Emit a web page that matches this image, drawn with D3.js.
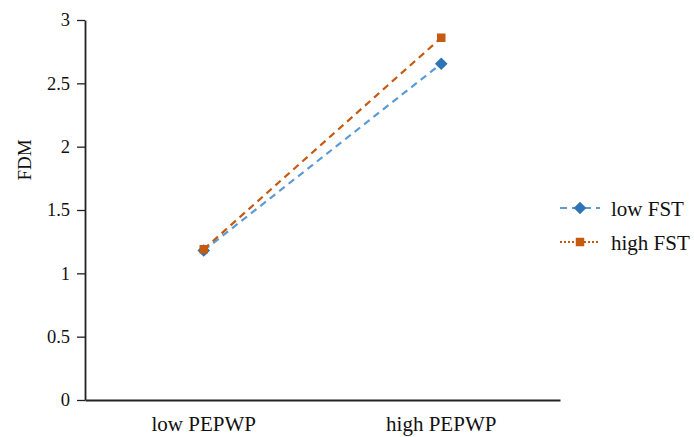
<!DOCTYPE html>
<html><head><meta charset="utf-8">
<script src="https://cdn.jsdelivr.net/npm/d3@7"></script>
<style>body{margin:0;background:#fff}svg{display:block}</style>
</head><body><svg id="c" width="694" height="437"></svg>
<script>
const categories = ["low PEPWP", "high PEPWP"];
const seriesNames = ["low FST", "high FST"];
const lowFST = [1.18, 2.655];
const highFST = [1.19, 2.86];
const yTicks = [0, 0.5, 1, 1.5, 2, 2.5, 3];
const yTickLabels = ["0", "0.5", "1", "1.5", "2", "2.5", "3"];

const FONT = '"Liberation Serif", "Times New Roman", Times, serif';
const svg = d3.select("#c");
const x = d3.scaleBand().domain(categories).range([85, 560]);
const y = d3.scaleLinear().domain([0, 3]).range([400, 20]);

// axes
const ya = svg.append("g").attr("transform", "translate(85,0)")
  .call(d3.axisLeft(y).tickValues(yTicks).tickFormat((d,i)=>yTickLabels[i]).tickSize(8).tickPadding(7).tickSizeOuter(0));
ya.attr("font-family", FONT);
ya.select(".domain").attr("stroke", "#222").attr("stroke-width", 1.8);
ya.selectAll(".tick line").attr("stroke", "#222").attr("stroke-width", 1.3);
ya.selectAll(".tick text").style("font-size", "18.5px").style("font-family", FONT).attr("fill", "#111");

const xa = svg.append("g").attr("transform", "translate(0,400)")
  .call(d3.axisBottom(x).tickSize(0).tickPadding(0).tickSizeOuter(0));
xa.attr("font-family", FONT);
xa.select(".domain").attr("stroke", "#222").attr("stroke-width", 1.8);
xa.selectAll(".tick text").style("font-size", "21px").style("font-family", FONT).attr("fill", "#111")
  .attr("dy", null).attr("y", 31);

svg.append("text").attr("transform", "translate(31,160) rotate(-90)")
  .attr("text-anchor", "middle").style("font-size", "19px").style("font-family", FONT).attr("fill", "#111").text("FDM");

const diamond = {draw(ctx, size){ const r = Math.sqrt(size/2); ctx.moveTo(0,-r); ctx.lineTo(r,0); ctx.lineTo(0,r); ctx.lineTo(-r,0); ctx.closePath(); }};
const series = [
  {name: seriesNames[0], vals: lowFST, line: "#5b9bd5", mark: "#2e75b6", dash: "7,5", legDash: "7,5", sym: diamond, size: 80},
  {name: seriesNames[1], vals: highFST, line: "#c55a11", mark: "#c55a11", dash: "7,5", legDash: "2,2", sym: d3.symbolSquare, size: 72}
];
const cx = d => x(d) + x.bandwidth()/2;
series.forEach(s => {
  const pts = categories.map((c,i)=>[cx(c), y(s.vals[i])]);
  svg.append("path").attr("d", d3.line()(pts)).attr("fill","none")
    .attr("stroke", s.line).attr("stroke-width", 2.2).attr("stroke-dasharray", s.dash);
  pts.forEach(p => svg.append("path").attr("d", d3.symbol(s.sym, s.size)())
    .attr("transform", `translate(${p[0]},${p[1]})`).attr("fill", s.mark));
});

// legend
series.forEach((s,i) => {
  const ly = 208 + i*34;
  svg.append("line").attr("x1", 560).attr("x2", 600).attr("y1", ly).attr("y2", ly)
    .attr("stroke", s.line).attr("stroke-width", 2).attr("stroke-dasharray", s.legDash);
  svg.append("path").attr("d", d3.symbol(s.sym, s.size)()).attr("transform", `translate(580,${ly})`).attr("fill", s.mark);
  svg.append("text").attr("x", 611).attr("y", ly + 8).style("font-size", "21px").style("font-family", FONT).attr("fill", "#111").text(s.name);
});
</script></body></html>
